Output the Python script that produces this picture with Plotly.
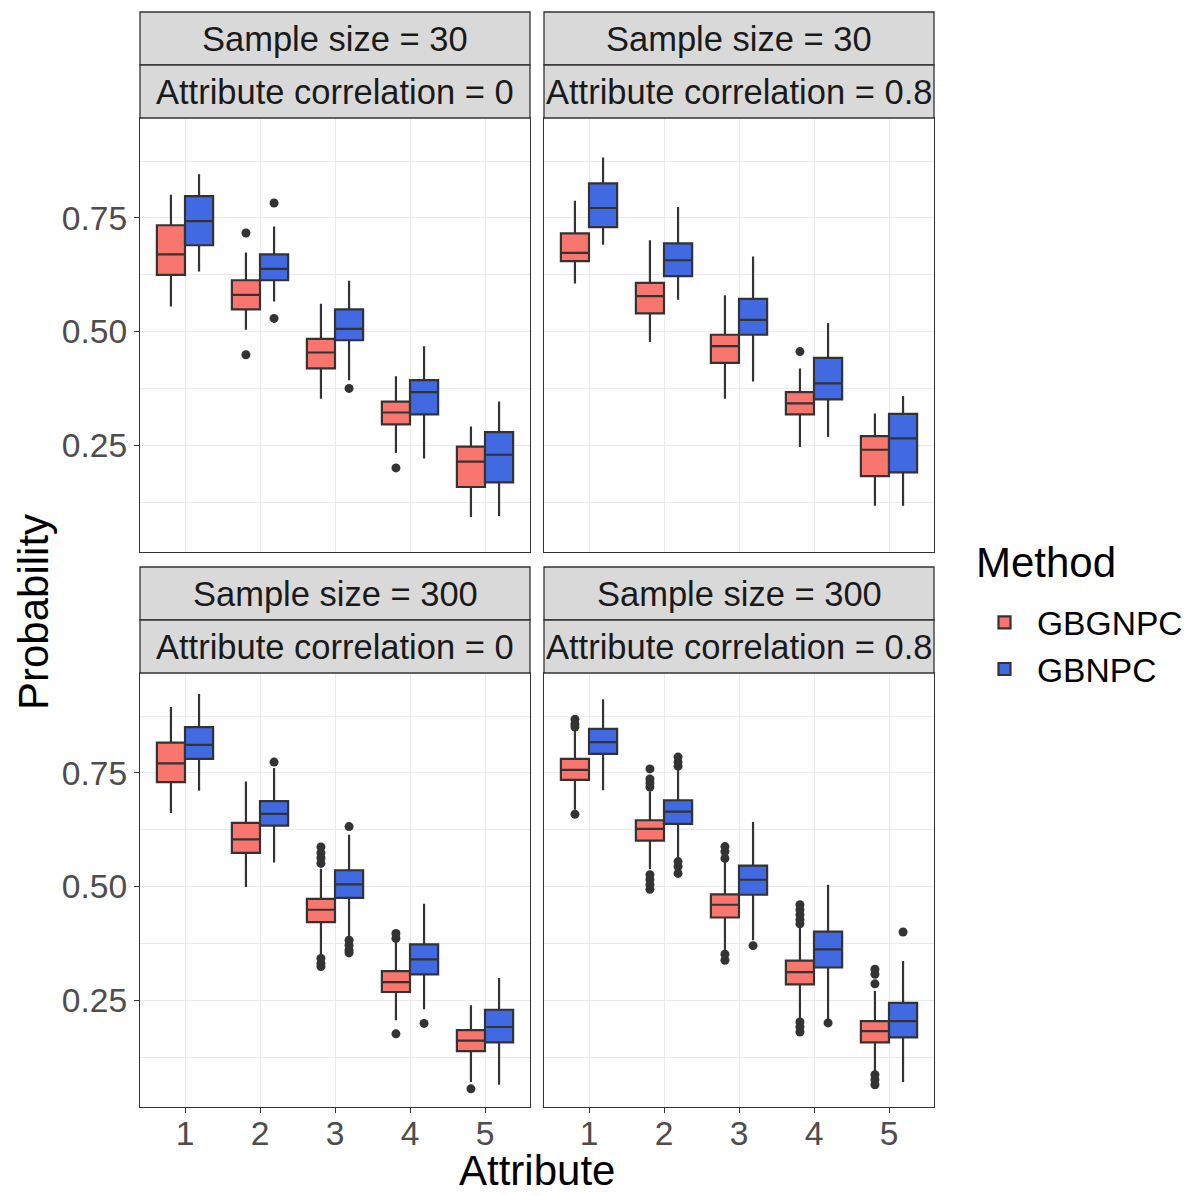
import plotly.graph_objects as go

attributes = [1, 2, 3, 4, 5]
methods = ["GBGNPC", "GBNPC"]
method_colors = {"GBGNPC": "#F8766D", "GBNPC": "#4169E1"}

# Panel: Sample size = 30, Attribute correlation = 0
n30_r0_GBGNPC_lo = [0.555, 0.504, 0.352, 0.233, 0.092]
n30_r0_GBGNPC_q1 = [0.625, 0.549, 0.419, 0.296, 0.158]
n30_r0_GBGNPC_med = [0.670, 0.581, 0.454, 0.322, 0.214]
n30_r0_GBGNPC_q3 = [0.734, 0.613, 0.484, 0.346, 0.247]
n30_r0_GBGNPC_hi = [0.801, 0.674, 0.561, 0.402, 0.291]
n30_r0_GBGNPC_out = [[], [0.717, 0.449], [], [0.200], []]
n30_r0_GBNPC_lo = [0.632, 0.566, 0.393, 0.221, 0.094]
n30_r0_GBNPC_q1 = [0.690, 0.613, 0.481, 0.318, 0.168]
n30_r0_GBNPC_med = [0.743, 0.638, 0.506, 0.367, 0.229]
n30_r0_GBNPC_q3 = [0.798, 0.670, 0.549, 0.393, 0.279]
n30_r0_GBNPC_hi = [0.846, 0.731, 0.612, 0.468, 0.346]
n30_r0_GBNPC_out = [[], [0.783, 0.529], [0.375], [], []]

# Panel: Sample size = 30, Attribute correlation = 0.8
n30_r08_GBGNPC_lo = [0.606, 0.477, 0.352, 0.246, 0.117]
n30_r08_GBGNPC_q1 = [0.655, 0.540, 0.431, 0.318, 0.182]
n30_r08_GBGNPC_med = [0.673, 0.578, 0.468, 0.342, 0.240]
n30_r08_GBGNPC_q3 = [0.716, 0.607, 0.493, 0.367, 0.270]
n30_r08_GBGNPC_hi = [0.788, 0.701, 0.580, 0.419, 0.320]
n30_r08_GBGNPC_out = [[], [], [], [0.456], []]
n30_r08_GBNPC_lo = [0.691, 0.570, 0.390, 0.268, 0.117]
n30_r08_GBNPC_q1 = [0.730, 0.622, 0.493, 0.351, 0.190]
n30_r08_GBNPC_med = [0.772, 0.657, 0.526, 0.386, 0.265]
n30_r08_GBNPC_q3 = [0.826, 0.694, 0.572, 0.442, 0.319]
n30_r08_GBNPC_hi = [0.883, 0.774, 0.665, 0.519, 0.358]
n30_r08_GBNPC_out = [[], [], [], [], []]

# Panel: Sample size = 300, Attribute correlation = 0
n300_r0_GBGNPC_lo = [0.662, 0.499, 0.346, 0.206, 0.070]
n300_r0_GBGNPC_q1 = [0.730, 0.574, 0.422, 0.268, 0.138]
n300_r0_GBGNPC_med = [0.771, 0.604, 0.449, 0.290, 0.161]
n300_r0_GBGNPC_q3 = [0.817, 0.640, 0.473, 0.314, 0.184]
n300_r0_GBGNPC_hi = [0.895, 0.731, 0.539, 0.379, 0.239]
n300_r0_GBGNPC_out = [[], [], [0.587, 0.574, 0.563, 0.551, 0.342, 0.331, 0.324],
                      [0.397, 0.386, 0.176], [0.055]]
n300_r0_GBNPC_lo = [0.711, 0.553, 0.390, 0.230, 0.064]
n300_r0_GBNPC_q1 = [0.781, 0.634, 0.475, 0.307, 0.157]
n300_r0_GBNPC_med = [0.812, 0.660, 0.505, 0.340, 0.191]
n300_r0_GBNPC_q3 = [0.851, 0.688, 0.536, 0.373, 0.229]
n300_r0_GBNPC_hi = [0.924, 0.761, 0.614, 0.462, 0.299]
n300_r0_GBNPC_out = [[], [0.774], [0.632, 0.382, 0.371, 0.360, 0.354], [0.199], []]

# Panel: Sample size = 300, Attribute correlation = 0.8
n300_r08_GBGNPC_lo = [0.669, 0.538, 0.357, 0.206, 0.088]
n300_r08_GBGNPC_q1 = [0.735, 0.601, 0.432, 0.285, 0.157]
n300_r08_GBGNPC_med = [0.757, 0.627, 0.460, 0.312, 0.182]
n300_r08_GBGNPC_q3 = [0.781, 0.646, 0.483, 0.337, 0.204]
n300_r08_GBGNPC_hi = [0.846, 0.710, 0.557, 0.412, 0.270]
n300_r08_GBGNPC_out = [[0.868, 0.858, 0.851, 0.659],
                       [0.759, 0.737, 0.728, 0.719, 0.526, 0.515, 0.504, 0.494],
                       [0.588, 0.577, 0.562, 0.351, 0.338],
                       [0.460, 0.449, 0.438, 0.427, 0.418, 0.202, 0.191, 0.180],
                       [0.318, 0.307, 0.286, 0.086, 0.075, 0.064]]
n300_r08_GBNPC_lo = [0.712, 0.563, 0.382, 0.206, 0.070]
n300_r08_GBNPC_q1 = [0.792, 0.638, 0.482, 0.322, 0.168]
n300_r08_GBNPC_med = [0.818, 0.665, 0.515, 0.362, 0.204]
n300_r08_GBNPC_q3 = [0.847, 0.690, 0.546, 0.401, 0.244]
n300_r08_GBNPC_hi = [0.912, 0.759, 0.642, 0.504, 0.336]
n300_r08_GBNPC_out = [[], [0.785, 0.774, 0.765, 0.555, 0.544, 0.529], [0.370], [0.200], [0.400]]

strip_top = ["Sample size = 30", "Sample size = 30", "Sample size = 300", "Sample size = 300"]
strip_bottom = ["Attribute correlation = 0", "Attribute correlation = 0.8",
                "Attribute correlation = 0", "Attribute correlation = 0.8"]
y_tickvals = [0.25, 0.50, 0.75]
y_ticktext = ["0.25", "0.50", "0.75"]

panels = [
    {"GBGNPC": (n30_r0_GBGNPC_lo, n30_r0_GBGNPC_q1, n30_r0_GBGNPC_med, n30_r0_GBGNPC_q3, n30_r0_GBGNPC_hi, n30_r0_GBGNPC_out),
     "GBNPC": (n30_r0_GBNPC_lo, n30_r0_GBNPC_q1, n30_r0_GBNPC_med, n30_r0_GBNPC_q3, n30_r0_GBNPC_hi, n30_r0_GBNPC_out)},
    {"GBGNPC": (n30_r08_GBGNPC_lo, n30_r08_GBGNPC_q1, n30_r08_GBGNPC_med, n30_r08_GBGNPC_q3, n30_r08_GBGNPC_hi, n30_r08_GBGNPC_out),
     "GBNPC": (n30_r08_GBNPC_lo, n30_r08_GBNPC_q1, n30_r08_GBNPC_med, n30_r08_GBNPC_q3, n30_r08_GBNPC_hi, n30_r08_GBNPC_out)},
    {"GBGNPC": (n300_r0_GBGNPC_lo, n300_r0_GBGNPC_q1, n300_r0_GBGNPC_med, n300_r0_GBGNPC_q3, n300_r0_GBGNPC_hi, n300_r0_GBGNPC_out),
     "GBNPC": (n300_r0_GBNPC_lo, n300_r0_GBNPC_q1, n300_r0_GBNPC_med, n300_r0_GBNPC_q3, n300_r0_GBNPC_hi, n300_r0_GBNPC_out)},
    {"GBGNPC": (n300_r08_GBGNPC_lo, n300_r08_GBGNPC_q1, n300_r08_GBGNPC_med, n300_r08_GBGNPC_q3, n300_r08_GBGNPC_hi, n300_r08_GBGNPC_out),
     "GBNPC": (n300_r08_GBNPC_lo, n300_r08_GBNPC_q1, n300_r08_GBNPC_med, n300_r08_GBNPC_q3, n300_r08_GBNPC_hi, n300_r08_GBNPC_out)},
]

W, H = 1192, 1196
FONT = "Liberation Sans, Arial, sans-serif"
px_cols = [(140, 530), (544, 934)]
px_rows = [(118, 552), (673, 1107)]
strip_h = 53

fig = go.Figure()
for i, panel in enumerate(panels):
    ax = "" if i == 0 else str(i + 1)
    for m in methods:
        lo, q1, med, q3, hi, out = panel[m]
        # boxes without outliers get their median as a (hidden, in-box) sample point
        samples = [pts if len(pts) else [md] for pts, md in zip(out, med)]
        fig.add_trace(go.Box(
            x=attributes, q1=q1, median=med, q3=q3, lowerfence=lo, upperfence=hi,
            y=samples, boxpoints="outliers", jitter=0, pointpos=0,
            name=m, legendgroup=m, showlegend=(i == 0),
            alignmentgroup="panel%d" % i, offsetgroup=m,
            fillcolor=method_colors[m], line=dict(color="#333333", width=2.2),
            whiskerwidth=0,
            marker=dict(color="#333333", size=9, line=dict(width=0)),
            xaxis="x" + ax, yaxis="y" + ax, hoverinfo="skip",
        ))

layout = dict(
    width=W, height=H, margin=dict(l=0, r=0, t=0, b=0),
    paper_bgcolor="white", plot_bgcolor="white",
    boxmode="group", boxgap=0.25, boxgroupgap=0,
    font=dict(family=FONT, color="#1A1A1A"),
    showlegend=True,
    legend=dict(x=972 / W, xanchor="left", y=1 - 594 / H, yanchor="top",
                font=dict(size=33.6, color="#000000"), bgcolor="rgba(0,0,0,0)",
                tracegroupgap=0, itemwidth=55),
)
shapes = []
annotations = []
for i in range(4):
    r, c = divmod(i, 2)
    ax = "" if i == 0 else str(i + 1)
    x0, x1 = px_cols[c]
    yt, yb = px_rows[r]
    layout["xaxis" + ax] = dict(
        domain=[x0 / W, x1 / W], anchor="y" + ax, range=[0.4, 5.6],
        tickmode="array", tickvals=attributes, ticktext=[str(a) for a in attributes],
        showticklabels=(r == 1), ticks="outside" if r == 1 else "",
        ticklen=5, tickwidth=1.3, tickcolor="#333333", ticklabelstandoff=-8,
        tickfont=dict(size=33.6, color="#4D4D4D", family=FONT),
        showgrid=True, gridcolor="#EBEBEB", gridwidth=1.4, zeroline=False,
        showline=True, mirror=True, linecolor="#333333", linewidth=1.3,
    )
    layout["yaxis" + ax] = dict(
        domain=[1 - yb / H, 1 - yt / H], anchor="x" + ax, range=[0.015, 0.97],
        tickmode="array", tickvals=y_tickvals, ticktext=y_ticktext,
        showticklabels=(c == 0), ticks="outside" if c == 0 else "",
        ticklen=5, tickwidth=1.3, tickcolor="#333333",
        tickfont=dict(size=33.6, color="#4D4D4D", family=FONT),
        showgrid=True, gridcolor="#EBEBEB", gridwidth=1.4, zeroline=False,
        minor=dict(tickmode="array", tickvals=[0.125, 0.375, 0.625, 0.875],
                   showgrid=True, gridcolor="#EBEBEB", gridwidth=0.7, ticks=""),
        showline=True, mirror=True, linecolor="#333333", linewidth=1.3,
    )
    for k, txt in enumerate([strip_top[i], strip_bottom[i]]):
        st = yt - strip_h * (2 - k)
        sb = st + strip_h
        shapes.append(dict(type="rect", xref="paper", yref="paper",
                           x0=x0 / W, x1=x1 / W, y0=1 - sb / H, y1=1 - st / H,
                           fillcolor="#D9D9D9", line=dict(color="#333333", width=1.3),
                           layer="above"))
        annotations.append(dict(text=txt, xref="paper", yref="paper",
                                x=(x0 + x1) / 2 / W, y=1 - (st + sb) / 2 / H,
                                xanchor="center", yanchor="middle", showarrow=False,
                                font=dict(size=34.5, color="#1A1A1A", family=FONT)))

annotations.append(dict(text="Method", xref="paper", yref="paper",
                        x=974 / W, y=1 - 562 / H, xanchor="left", yanchor="middle",
                        showarrow=False, font=dict(size=42, color="#000000", family=FONT)))
annotations.append(dict(text="Attribute", xref="paper", yref="paper",
                        x=(140 + 934) / 2 / W, y=1 - 1170 / H, xanchor="center", yanchor="middle",
                        showarrow=False, font=dict(size=42, color="#000000", family=FONT)))
annotations.append(dict(text="Probability", xref="paper", yref="paper",
                        x=33 / W, y=1 - 612 / H, xanchor="center", yanchor="middle",
                        textangle=-90, showarrow=False,
                        font=dict(size=42, color="#000000", family=FONT)))
layout["shapes"] = shapes
layout["annotations"] = annotations
fig.update_layout(**layout)
fig.write_html("out.html", config={"displayModeBar": False},
               post_script="document.body.style.margin='0';document.body.style.overflow='hidden';")
